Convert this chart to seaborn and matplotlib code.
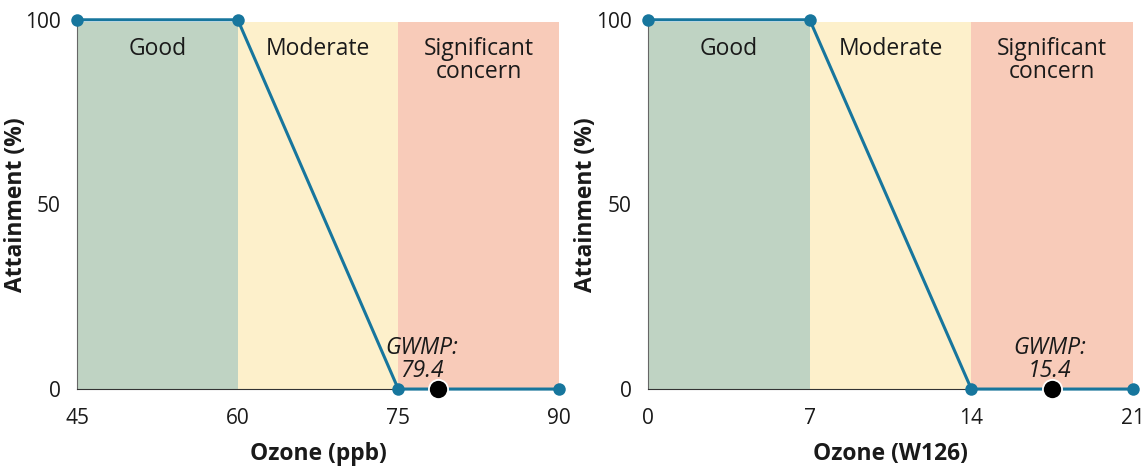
import matplotlib.pyplot as plt
import seaborn as sns
import pandas as pd

# Datos
zone_names = ["Good", "Moderate", "Significant\nconcern"]
zone_colors = ["#bfd3c3", "#fdf0cb", "#f8cbb9"]

ppb_x = [45, 60, 75, 90]
ppb_y = [100, 100, 0, 0]
ppb_ticks = [45, 60, 75, 90]
ppb_gwmp = 78.7
ppb_gwmp_label = "GWMP:\n79.4"

w126_x = [0, 7, 14, 21]
w126_y = [100, 100, 0, 0]
w126_ticks = [0, 7, 14, 21]
w126_gwmp = 17.5
w126_gwmp_label = "GWMP:\n15.4"

y_ticks = [0, 50, 100]

LINE = "#17769d"
TXT = "#1a1a1a"

sns.set_style("white")
plt.rcParams["font.family"] = ["Open Sans", "DejaVu Sans"]


def draw_panel(ax, xs, ys, ticks, gwmp, gwmp_label, label_x, xlabel):
    # bandas de fondo entre los puntos de ruptura
    for i, (name, col) in enumerate(zip(zone_names, zone_colors)):
        ax.axvspan(ticks[i], ticks[i + 1], ymin=0, ymax=0.995, color=col, lw=0, zorder=0)
        ax.text((ticks[i] + ticks[i + 1]) / 2, 95.4, name, ha="center", va="top",
                fontsize=16.5, color=TXT, linespacing=0.97)

    df = pd.DataFrame({"x": xs, "y": ys})
    sns.lineplot(data=df, x="x", y="y", ax=ax, color=LINE, lw=2.2, marker="o",
                 markersize=9, markeredgewidth=0, clip_on=False, zorder=3)
    sns.scatterplot(x=[gwmp], y=[0], ax=ax, color="black", s=190, edgecolor="white",
                    linewidth=1.3, clip_on=False, zorder=4)
    ax.text(label_x, 1.7, gwmp_label, ha="center", va="bottom", fontsize=16.5,
            style="italic", color=TXT, linespacing=0.95)

    ax.set_xlim(ticks[0], ticks[-1])
    ax.set_ylim(0, 100)
    ax.set_xticks(ticks)
    ax.set_yticks(y_ticks)
    ax.set_xlabel(xlabel, fontweight="bold", fontsize=16.5, labelpad=9, color=TXT)
    ax.set_ylabel("Attainment (%)", fontweight="bold", fontsize=16.5, color=TXT)
    ax.yaxis.set_label_coords(-0.103, 0.5)
    ax.tick_params(axis="both", direction="out", length=6, width=1, color="#777777",
                   labelsize=15, labelcolor=TXT)
    ax.tick_params(axis="x", pad=8)
    ax.tick_params(axis="y", pad=6)
    sns.despine(ax=ax)
    ax.spines["left"].set_color("#666666")
    ax.spines["bottom"].set_color("#333333")


fig = plt.figure(figsize=(11.45, 4.71), dpi=100)
ax1 = fig.add_axes([0.0675, 0.174, 0.4205, 0.784])
ax2 = fig.add_axes([0.566, 0.174, 0.4235, 0.784])

draw_panel(ax1, ppb_x, ppb_y, ppb_ticks, ppb_gwmp, ppb_gwmp_label, 77.2, "Ozone (ppb)")
draw_panel(ax2, w126_x, w126_y, w126_ticks, w126_gwmp, w126_gwmp_label, 17.4, "Ozone (W126)")

fig.savefig("out.png", dpi=100)
